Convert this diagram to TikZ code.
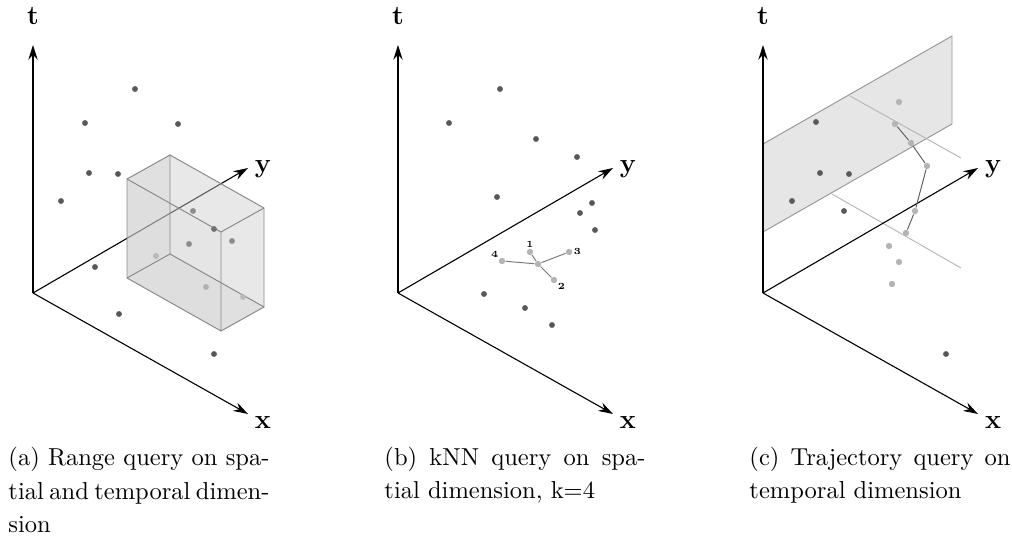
\documentclass[tikz,border=0pt]{standalone}
\usetikzlibrary{arrows.meta}
\definecolor{dotdark}{HTML}{585858}
\definecolor{dotlight}{HTML}{B4B4B4}
\definecolor{edgegray}{HTML}{8A8A8A}
\definecolor{boxfill}{HTML}{CCCCCC}
\definecolor{planefill}{HTML}{E6E6E6}
\definecolor{planeedge}{HTML}{999999}
\definecolor{sliceline}{HTML}{B8B8B8}
\definecolor{knnline}{HTML}{7A7A7A}
\definecolor{trajline}{HTML}{606060}
\newlength\capw
\setlength\capw{106.5pt}
\tikzset{
  axarrow/.style={line width=0.45pt, -{Stealth[length=6pt,width=3.8pt,inset=2pt]}},
  axlab/.style={font=\fontsize{11}{13}\selectfont\bfseries, inner sep=0pt, anchor=base},
  dotd/.style={circle, fill=dotdark, inner sep=0pt, minimum size=2.4pt},
  dotl/.style={circle, fill=dotlight, inner sep=0pt, minimum size=2.6pt},
  dotc/.style={circle, fill=#1, inner sep=0pt, minimum size=2.4pt},
  knnlab/.style={font=\fontsize{3.8}{4}\selectfont\bfseries, inner sep=0.3pt},
  boxface/.style={fill=boxfill, fill opacity=#1, draw=none},
  boxedge/.style={draw=edgegray, line width=0.4pt},
  captext/.style={font=\fontsize{10}{13.8}\selectfont, align=left, inner sep=0pt, anchor=base west},
  knnedge/.style={draw=knnline, line width=0.4pt},
  trajedge/.style={draw=trajline, line width=0.4pt},
  sliceedge/.style={draw=sliceline, line width=0.4pt},
}
\begin{document}
\begin{tikzpicture}[x=0.408pt, y=-0.408pt]
\useasboundingbox (0,0) rectangle (1012,539);

%% ---------------- panel (a) ----------------
\coordinate (ao) at (33,293);
\coordinate (at) at (33,45);
\coordinate (ay) at (248,168);
\coordinate (ax) at (248,414);
\draw[axarrow] (ao) -- (at);
\draw[axarrow] (ao) -- (ay);
\draw[axarrow] (ao) -- (ax);
\node[axlab] (alt) at (33,25) {t};
\node[axlab] (aly) at (263,173) {y};
\node[axlab] (alx) at (263,429) {x};

\node[dotd] (a1) at (135,89) {};
\node[dotd] (a2) at (85,123) {};
\node[dotd] (a3) at (178,124) {};
\node[dotd] (a4) at (89,173) {};
\node[dotd] (a5) at (118,174) {};
\node[dotd] (a6) at (61,201) {};
\node[dotd] (a7) at (95,267) {};
\node[dotd] (a8) at (119,314) {};
\node[dotd] (a9) at (214,354) {};

% box corners
\coordinate (f1) at (127,179);
\coordinate (f2) at (221,232);
\coordinate (f3) at (221,331);
\coordinate (f4) at (127,278);
\coordinate (b1) at (170,155);
\coordinate (b2) at (264,208);
\coordinate (b3) at (264,307);
\coordinate (b4) at (170,254);
\fill[boxface=0.3] (b1) -- (b2) -- (b3) -- (b4) -- cycle;
\fill[boxface=0.5] (f1) -- (b1) -- (b4) -- (f4) -- cycle;
\fill[boxface=0.5] (f4) -- (f3) -- (b3) -- (b4) -- cycle;
\fill[boxface=0.22] (f2) -- (b2) -- (b3) -- (f3) -- cycle;
\fill[boxface=0.22] (f1) -- (f2) -- (b2) -- (b1) -- cycle;
\fill[boxface=0.3] (f1) -- (f2) -- (f3) -- (f4) -- cycle;
\draw[boxedge] (f1) -- (f2) -- (f3) -- (f4) -- cycle;
\draw[boxedge] (b1) -- (b2) -- (b3) -- (b4) -- cycle;
\draw[boxedge] (f1) -- (b1);
\draw[boxedge] (f2) -- (b2);
\draw[boxedge] (f3) -- (b3);
\draw[boxedge] (f4) -- (b4);

\node[dotc={black!45}] (a10) at (193,211) {};
\node[dotc={black!56}] (a11) at (214,229) {};
\node[dotc={black!45}] (a12) at (232,241) {};
\node[dotc={black!45}] (a13) at (189,244) {};
\node[dotc={black!28}] (a14) at (156,256) {};
\node[dotc={black!31}] (a15) at (206,287) {};
\node[dotc={black!28}] (a16) at (243,297) {};

\node[captext] (capa) at (8,533) {\makebox[\capw][s]{(a) Range query on spa-}\\\makebox[\capw][s]{tial and temporal dimen-}\\sion};

%% ---------------- panel (b) ----------------
\coordinate (bo) at (398,293);
\coordinate (bt) at (398,45);
\coordinate (by) at (613,168);
\coordinate (bx) at (613,414);
\draw[axarrow] (bo) -- (bt);
\draw[axarrow] (bo) -- (by);
\draw[axarrow] (bo) -- (bx);
\node[axlab] (blt) at (398,25) {t};
\node[axlab] (bly) at (628,173) {y};
\node[axlab] (blx) at (628,429) {x};

\node[dotd] (p1) at (500,89) {};
\node[dotd] (p2) at (449,123) {};
\node[dotd] (p3) at (536,139) {};
\node[dotd] (p4) at (577,157) {};
\node[dotd] (p5) at (497,197) {};
\node[dotd] (p6) at (592,203) {};
\node[dotd] (p7) at (580,213) {};
\node[dotd] (p8) at (595,230) {};
\node[dotd] (p9) at (484,294) {};
\node[dotd] (p10) at (525,308) {};
\node[dotd] (p11) at (552,325) {};

\node[dotl] (k0) at (538,264) {};
\node[dotl] (k1) at (530,252) {};
\node[dotl] (k2) at (554,280) {};
\node[dotl] (k3) at (569,252) {};
\node[dotl] (k4) at (502,261) {};
\draw[knnedge] (k0) -- (k1);
\draw[knnedge] (k0) -- (k2);
\draw[knnedge] (k0) -- (k3);
\draw[knnedge] (k0) -- (k4);
\node[knnlab, anchor=south] (kl1) at (k1.north) {1};
\node[knnlab, anchor=north west] (kl2) at (k2.south east) {2};
\node[knnlab, anchor=west] (kl3) at (k3.east) {3};
\node[knnlab, anchor=south east] (kl4) at (k4.north west) {4};

\node[captext] (capb) at (384,499) {\makebox[\capw][s]{(b) kNN query on spa-}\\tial dimension, k=4};

%% ---------------- panel (c) ----------------
\coordinate (co) at (763,293);
\coordinate (ct) at (763,45);
\coordinate (cy) at (978,168);
\coordinate (cx) at (978,414);
\coordinate (q1) at (763,144);
\coordinate (q2) at (952,36);
\coordinate (q3) at (952,124);
\coordinate (q4) at (763,232);
\draw[fill=planefill, draw=planeedge, line width=0.4pt] (q1) -- (q2) -- (q3) -- (q4) -- cycle;
\coordinate (s1a) at (850,96);
\coordinate (s1b) at (961,158);
\coordinate (s2a) at (832,194);
\coordinate (s2b) at (961,268);
\draw[sliceedge] (s1a) -- (s1b);
\draw[sliceedge] (s2a) -- (s2b);
\draw[axarrow] (co) -- (ct);
\draw[axarrow] (co) -- (cy);
\draw[axarrow] (co) -- (cx);
\node[axlab] (clt) at (763,25) {t};
\node[axlab] (cly) at (993,173) {y};
\node[axlab] (clx) at (993,429) {x};

\node[dotd] (c1) at (816,122) {};
\node[dotd] (c2) at (820,173) {};
\node[dotd] (c3) at (849,174) {};
\node[dotd] (c4) at (792,201) {};
\node[dotd] (c5) at (844,211) {};
\node[dotd] (c6) at (946,354) {};
\node[dotl] (c7) at (899,102) {};
\node[dotl] (c8) at (895,124) {};
\node[dotl] (c9) at (911,143) {};
\node[dotl] (c10) at (927,166) {};
\node[dotl] (c11) at (915,211) {};
\node[dotl] (c12) at (906,233) {};
\node[dotl] (c13) at (889,246) {};
\node[dotl] (c14) at (899,262) {};
\node[dotl] (c15) at (892,284) {};
\draw[trajedge] (c8) -- (c9) -- (c10) -- (c11) -- (c12);

\node[captext] (capc) at (749,499) {\makebox[\capw][s]{(c) Trajectory query on}\\temporal dimension};
\end{tikzpicture}
\end{document}
